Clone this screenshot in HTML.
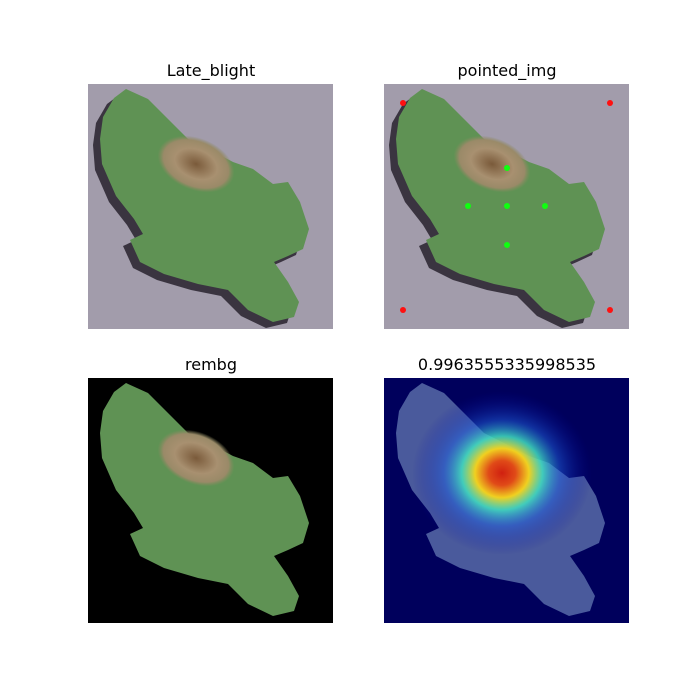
<!DOCTYPE html>
<html><head><meta charset="utf-8"><style>
html,body{margin:0;padding:0;background:#fff;width:700px;height:700px;overflow:hidden}
svg{display:block}
text{font-family:"DejaVu Sans","Liberation Sans",sans-serif;font-size:16px;fill:#000}
</style></head><body>
<svg id="fig" width="700" height="700" viewBox="0 0 700 700">
<defs>
<path id="leaf" d="M38,5 L60,15 L85,40 L100,55 L120,65 L145,78 L165,85 L185,100 L200,98 L212,118 L221,145 L215,165 L200,172 L186,178 L200,198 L211,218 L206,233 L185,238 L160,226 L140,206 L110,200 L76,190 L52,178 L42,156 L55,150 L46,135 L28,112 L14,80 L12,55 L15,33 L26,14 Z"/>
<radialGradient id="lesion" cx="0.5" cy="0.5" r="0.5">
<stop offset="0" stop-color="#7a5a3a"/><stop offset="0.55" stop-color="#a89070"/><stop offset="0.85" stop-color="#9a8a68"/><stop offset="1" stop-color="#8a8a60" stop-opacity="0"/>
</radialGradient>
<radialGradient id="heat" cx="0.5" cy="0.5" r="0.5">
<stop offset="0" stop-color="#d02010"/><stop offset="0.15" stop-color="#e04a18"/><stop offset="0.3" stop-color="#f0d020"/><stop offset="0.45" stop-color="#40e0c0" stop-opacity="0.85"/><stop offset="0.65" stop-color="#2060e0" stop-opacity="0.5"/><stop offset="1" stop-color="#0000a0" stop-opacity="0"/>
</radialGradient>
<clipPath id="pc"><rect x="0" y="0" width="245" height="245"/></clipPath>
</defs>

<text x="211" y="76" text-anchor="middle">Late_blight</text>
<text x="507" y="76" text-anchor="middle">pointed_img</text>
<text x="211" y="370" text-anchor="middle">rembg</text>
<text x="507" y="370" text-anchor="middle">0.9963555335998535</text>

<g transform="translate(88,84)" clip-path="url(#pc)">
<rect width="245" height="245" fill="#a29cab"/>
<use href="#leaf" fill="#3a3440" transform="translate(-7,6)"/>
<use href="#leaf" fill="#5f9254"/>
<ellipse cx="108" cy="80" rx="40" ry="26" fill="url(#lesion)" transform="rotate(22 108 80)"/>
</g>

<g transform="translate(384,84)" clip-path="url(#pc)">
<rect width="245" height="245" fill="#a29cab"/>
<use href="#leaf" fill="#3a3440" transform="translate(-7,6)"/>
<use href="#leaf" fill="#5f9254"/>
<ellipse cx="108" cy="80" rx="40" ry="26" fill="url(#lesion)" transform="rotate(22 108 80)"/>
<g id="pts"></g>
</g>

<g transform="translate(88,378)" clip-path="url(#pc)">
<rect width="245" height="245" fill="#000"/>
<use href="#leaf" fill="#5f9254"/>
<ellipse cx="108" cy="80" rx="40" ry="26" fill="url(#lesion)" transform="rotate(22 108 80)"/>
</g>

<g transform="translate(384,378)" clip-path="url(#pc)">
<rect width="245" height="245" fill="#00005c"/>
<use href="#leaf" fill="#4a5a9c"/>
<ellipse cx="118" cy="95" rx="90" ry="82" fill="url(#heat)"/>
</g>
</svg>
<script>
const redX=[19,226,19,226];
const redY=[19,19,226,226];
const greenX=[123,84,123,161,123];
const greenY=[84,122,122,122,161];
const g=document.getElementById('pts');
const NS='http://www.w3.org/2000/svg';
function dot(x,y,c,name){
  const e=document.createElementNS(NS,'circle');
  e.setAttribute('cx',x);e.setAttribute('cy',y);e.setAttribute('r',3);e.setAttribute('fill',c);
  
  
  g.appendChild(e);
}
redX.forEach((x,i)=>dot(x,redY[i],'#ff1010','corner-point'));
greenX.forEach((x,i)=>dot(x,greenY[i],'#10ff10','leaf-point'));
</script>
</body></html>
